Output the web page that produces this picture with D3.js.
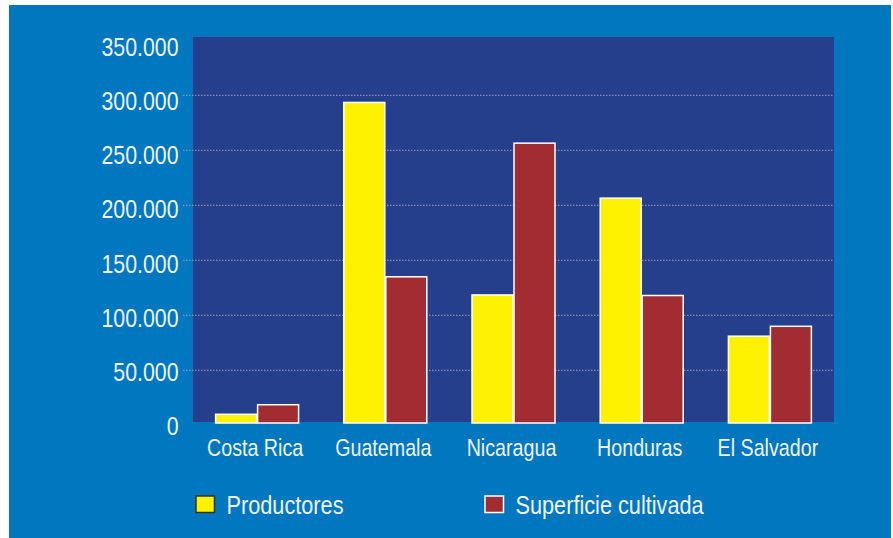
<!DOCTYPE html>
<html>
<head>
<meta charset="utf-8">
<script src="https://cdn.jsdelivr.net/npm/d3@7"></script>
<style>
  html, body { margin: 0; padding: 0; background: #ffffff; }
  svg { display: block; }
  text { font-family: "Liberation Sans Narrow", "Arial Narrow", "Liberation Sans", Arial, sans-serif; fill: #eef3fb; }
</style>
</head>
<body>
<svg id="chart" width="893" height="538"></svg>
<script>
// Café en Centroamérica: productores y superficie cultivada por país
const categories = ["Costa Rica", "Guatemala", "Nicaragua", "Honduras", "El Salvador"];
const productores = [10000, 293500, 118500, 206500, 81000];
const superficie = [18700, 135000, 256500, 118000, 90000];
const seriesNames = ["Productores", "Superficie cultivada"];
const tickValues = [0, 50000, 100000, 150000, 200000, 250000, 300000, 350000];
const tickLabels = ["0", "50.000", "100.000", "150.000", "200.000", "250.000", "300.000", "350.000"];

const colors = { Productores: "#fff200", "Superficie cultivada": "#a12d33" };

const W = 893, H = 538;
const plot = { left: 193, right: 834, top: 37, bottom: 422 };
const NARROW = 0.82; // horizontal squeeze for a narrow face

const svg = d3.select("#chart");

// places a narrow-looking label: text is squeezed horizontally around its anchor
function narrowText(sel, xFn, yFn, k = NARROW) {
  return sel
    .attr("x", 0).attr("y", 0)
    .attr("transform", (d, i) => `translate(${xFn(d, i)},${yFn(d, i)}) scale(${k},1)`);
}

// outer panel
svg.append("rect").attr("x", 9).attr("y", 5).attr("width", 882).attr("height", H - 5)
  .attr("fill", "#0077bf");

// plot background
svg.append("rect")
  .attr("x", plot.left).attr("y", plot.top)
  .attr("width", plot.right - plot.left).attr("height", plot.bottom - plot.top)
  .attr("fill", "#253f8c");

const x = d3.scaleBand().domain(categories).range([plot.left, plot.right])
  .paddingInner(0.345).paddingOuter(0.1725);
const xs = d3.scaleBand().domain(seriesNames).range([0, x.bandwidth()]);
const y = d3.scaleLinear().domain([0, 350000]).range([425.3, 40.3]);
// tick labels sit on a slightly tighter scale than the grid
const yLabel = d3.scaleLinear().domain([0, 350000]).range([425.5, 46.7]);

// dotted gridlines (with short ticks out to the left)
svg.append("g").selectAll("line")
  .data(tickValues.filter(v => v > 0 && v < 350000))
  .join("line")
  .attr("x1", 183).attr("x2", plot.right)
  .attr("y1", d => y(d)).attr("y2", d => y(d))
  .attr("stroke", "#9aa3bb").attr("stroke-width", 1)
  .attr("stroke-dasharray", "1.5,1.5");

// y tick labels
svg.append("g").selectAll("text")
  .data(tickValues)
  .join("text")
  .call(narrowText, () => 178.5, d => yLabel(d))
  .attr("dy", "0.36em")
  .attr("text-anchor", "end")
  .attr("font-size", 26)
  .text((d, i) => tickLabels[i]);

// bars
const rows = categories.map((c, i) => ({ cat: c, values: [productores[i], superficie[i]] }));
const groups = svg.append("g").selectAll("g")
  .data(rows).join("g")
  .attr("transform", d => `translate(${x(d.cat)},0)`);

groups.selectAll("rect")
  .data(d => d.values.map((v, j) => ({ name: seriesNames[j], v })))
  .join("rect")
  .attr("x", d => xs(d.name) + 0.5)
  .attr("y", d => y(d.v))
  .attr("width", xs.bandwidth() - 1)
  .attr("height", d => Math.min(y(0), plot.bottom + 1) - y(d.v))
  .attr("fill", d => colors[d.name])
  .attr("stroke", "#ffffff")
  .attr("stroke-width", 1.5);

// category labels
svg.append("g").selectAll("text")
  .data(categories).join("text")
  .call(narrowText, d => x(d) + x.bandwidth() / 2 - 2, () => 456)
  .attr("text-anchor", "middle")
  .attr("font-size", 24)
  .text(d => d);

// legend
const legendItems = [
  { name: seriesNames[0], x: 196, stroke: "#333333" },
  { name: seriesNames[1], x: 485, stroke: "#ffffff" }
];
const leg = svg.append("g").selectAll("g").data(legendItems).join("g");
leg.append("rect")
  .attr("x", d => d.x).attr("y", 496)
  .attr("width", 18.5).attr("height", 16.5)
  .attr("fill", d => colors[d.name])
  .attr("stroke", d => d.stroke).attr("stroke-width", 1.5);
leg.append("text")
  .call(narrowText, d => d.x + 30.5, () => 513.5, 0.835)
  .attr("font-size", 26)
  .text(d => d.name);
</script>
</body>
</html>
